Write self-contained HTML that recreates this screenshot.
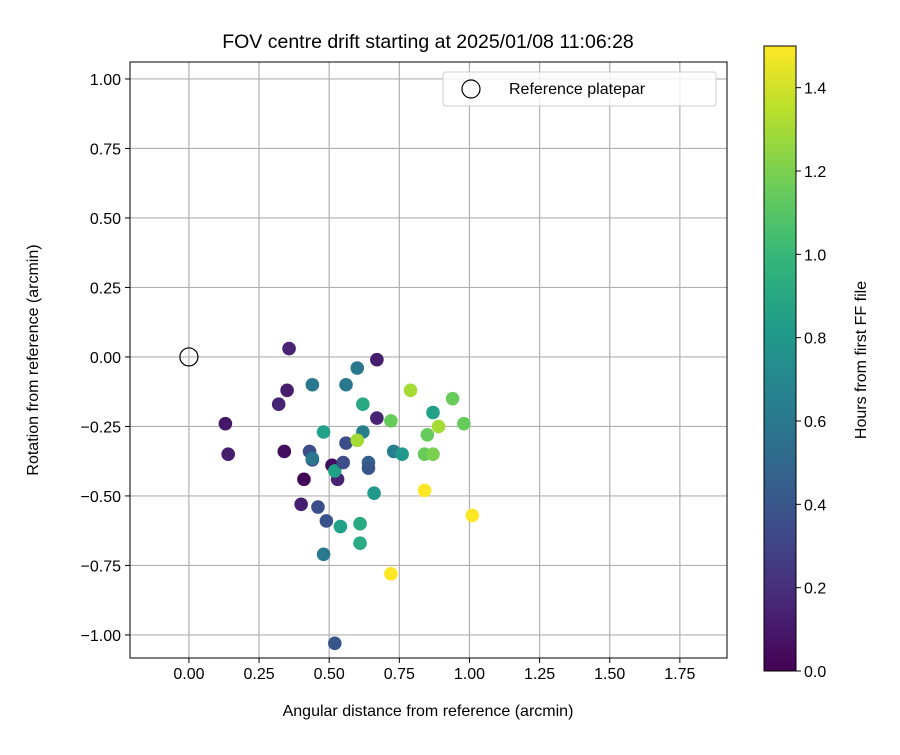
<!DOCTYPE html>
<html><head><meta charset="utf-8"><style>
body{margin:0;background:#fff;}
svg text{font-family:"Liberation Sans","DejaVu Sans",sans-serif;fill:#000;}
</style></head><body>
<svg id="chart" width="900" height="750" xmlns="http://www.w3.org/2000/svg"></svg>
<script>
const xs=[0.13,0.14,0.357,0.35,0.32,0.34,0.41,0.40,0.44,0.48,0.43,0.44,0.44,0.46,0.49,0.48,0.51,0.53,0.52,0.55,0.56,0.56,0.60,0.62,0.62,0.60,0.64,0.64,0.54,0.61,0.61,0.67,0.67,0.66,0.72,0.73,0.76,0.79,0.72,0.52,0.87,0.85,0.89,0.84,0.87,0.94,0.98,0.84,1.01];
const ys=[-0.24,-0.35,0.03,-0.12,-0.17,-0.34,-0.44,-0.53,-0.10,-0.27,-0.34,-0.37,-0.365,-0.54,-0.59,-0.71,-0.39,-0.44,-0.41,-0.38,-0.31,-0.10,-0.04,-0.17,-0.27,-0.30,-0.38,-0.40,-0.61,-0.60,-0.67,-0.22,-0.01,-0.49,-0.23,-0.34,-0.35,-0.12,-0.78,-1.03,-0.20,-0.28,-0.25,-0.35,-0.35,-0.15,-0.24,-0.48,-0.57];
const hours=[0.1,0.12,0.15,0.12,0.15,0.05,0.02,0.13,0.6,0.85,0.35,0.3,0.6,0.35,0.38,0.6,0.05,0.15,0.85,0.35,0.35,0.6,0.6,0.9,0.65,1.3,0.45,0.4,0.85,0.9,0.92,0.15,0.12,0.8,1.15,0.65,0.8,1.3,1.5,0.4,0.85,1.15,1.3,1.15,1.2,1.15,1.15,1.5,1.5];
const xTicks=[0,0.25,0.5,0.75,1.0,1.25,1.5,1.75];
const yTicks=[-1,-0.75,-0.5,-0.25,0,0.25,0.5,0.75,1.0];
const cTicks=[0,0.2,0.4,0.6,0.8,1.0,1.2,1.4];
const L=130,R=727,T=62,B=658;
const xMin=-0.21,xMax=1.918,yMin=-1.083,yMax=1.061;
const X=v=>L+(v-xMin)/(xMax-xMin)*(R-L);
const Y=v=>B-(v-yMin)/(yMax-yMin)*(B-T);
const CB={x:764,w:32,top:46,bot:671,max:1.5};
const CY=v=>CB.bot-v/CB.max*(CB.bot-CB.top);
const vir=[[68,1,84],[72,40,120],[62,74,137],[49,104,142],[38,130,142],[31,158,137],[53,183,121],[109,205,89],[180,222,44],[253,231,37]];
function cmap(t){t=Math.max(0,Math.min(1,t))*9;const i=Math.min(8,Math.floor(t)),f=t-i;const a=vir[i],b=vir[i+1];return `rgb(${a.map((c,k)=>Math.round(c+(b[k]-c)*f)).join(',')})`;}
const svg=document.getElementById('chart');const NS='http://www.w3.org/2000/svg';
function mk(t,at,p){const e=document.createElementNS(NS,t);for(const k in at)e.setAttribute(k,at[k]);(p||svg).appendChild(e);return e;}
function fmt(v,d){return v.toFixed(d).replace('-','−');}
// grid
xTicks.forEach(v=>{const l=mk('line',{x1:X(v),x2:X(v),y1:T,y2:B,stroke:'#b0b0b0','stroke-width':1.2});

});
yTicks.forEach(v=>{const l=mk('line',{x1:L,x2:R,y1:Y(v),y2:Y(v),stroke:'#b0b0b0','stroke-width':1.2});

});
// points
xs.forEach((x,i)=>{const c=mk('circle',{cx:X(x),cy:Y(ys[i]),r:6.8,fill:cmap(hours[i]/1.5)});

});
const rc=mk('circle',{cx:X(0),cy:Y(0),r:9,fill:'none',stroke:'#000','stroke-width':1.2});


// frame
const fr=mk('rect',{x:L,y:T,width:R-L,height:B-T,fill:'none',stroke:'#000','stroke-width':1});


xTicks.forEach(v=>{mk('line',{x1:X(v),x2:X(v),y1:B,y2:B+5,stroke:'#000'});
const t=mk('text',{x:X(v),y:B+21,'text-anchor':'middle','font-size':16});t.textContent=fmt(v,2);

});
yTicks.forEach(v=>{mk('line',{x1:L-5,x2:L,y1:Y(v),y2:Y(v),stroke:'#000'});
const t=mk('text',{x:L-9,y:Y(v)+6,'text-anchor':'end','font-size':16});t.textContent=fmt(v,2);

});
// colorbar
const g=mk('defs',{});const lg=mk('linearGradient',{id:'vg',x1:0,y1:1,x2:0,y2:0},g);
for(let i=0;i<=20;i++)mk('stop',{offset:i/20,'stop-color':cmap(i/20)},lg);
const cb=mk('rect',{x:CB.x,y:CB.top,width:CB.w,height:CB.bot-CB.top,fill:'url(#vg)',stroke:'#000','stroke-width':1});


cTicks.forEach(v=>{mk('line',{x1:CB.x+CB.w,x2:CB.x+CB.w+5,y1:CY(v),y2:CY(v),stroke:'#000'});
const t=mk('text',{x:CB.x+CB.w+8,y:CY(v)+6,'font-size':16});t.textContent=v.toFixed(1);

});
</script>
<svg width="900" height="750" style="position:absolute;left:0;top:0" xmlns="http://www.w3.org/2000/svg">
<text x="428" y="48" text-anchor="middle" font-size="19.5">FOV centre drift starting at 2025/01/08 11:06:28</text>
<text x="428" y="716" text-anchor="middle" font-size="16">Angular distance from reference (arcmin)</text>
<text transform="translate(38,360) rotate(-90)" text-anchor="middle" font-size="16">Rotation from reference (arcmin)</text>
<text transform="translate(866,360) rotate(-90)" text-anchor="middle" font-size="16">Hours from first FF file</text>
<g>
<rect x="443" y="72" width="273" height="34" rx="3" fill="#fff" fill-opacity="0.8" stroke="#ccc"/>
<circle cx="471" cy="89" r="9" fill="none" stroke="#000" stroke-width="1.2"/>
<text x="509" y="94" font-size="16">Reference platepar</text>
</g>
</svg>
</body></html>
